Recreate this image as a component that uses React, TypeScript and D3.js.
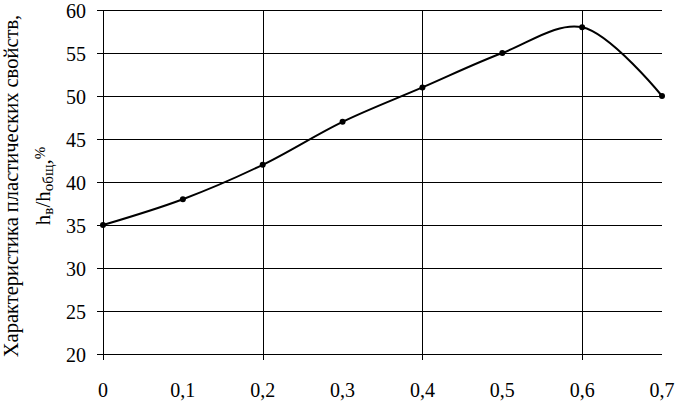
import * as d3 from 'd3'
import { useRef, useEffect } from 'react'

const xValues = [0, 0.1, 0.2, 0.3, 0.4, 0.5, 0.6, 0.7];
const yValues = [35, 38, 42, 47, 51, 55, 58, 50];
const xTicks = [0, 0.1, 0.2, 0.3, 0.4, 0.5, 0.6, 0.7];
const xGrid = [0.2, 0.4, 0.6];
const yTicks = [20, 25, 30, 35, 40, 45, 50, 55, 60];

const fmt = (v: number) => String(v).replace('.', ',');

function App() {
    const svgRef = useRef<SVGSVGElement>(null);

    useEffect(() => {
        const width = 676;
        const height = 402;
        const svg = d3.select(svgRef.current)
            .attr('width', width)
            .attr('height', height);
        svg.selectAll('*').remove();
        const font = '"Liberation Serif", "Times New Roman", serif';

        const scaleX = d3.scaleLinear().domain([0, 0.7]).range([103, 662]);
        const scaleY = d3.scaleLinear().domain([20, 60]).range([354, 10]);

        const g = svg.append('g').attr('shape-rendering', 'crispEdges');

        // horizontal grid
        g.selectAll('.hgrid')
            .data(yTicks)
            .join('line')
            .attr('x1', scaleX(0) - 6)
            .attr('x2', scaleX(0.7))
            .attr('y1', d => Math.round(scaleY(d)) + 0.5)
            .attr('y2', d => Math.round(scaleY(d)) + 0.5)
            .attr('stroke', '#000');

        // vertical grid
        g.selectAll('.vgrid')
            .data([0, ...xGrid])
            .join('line')
            .attr('x1', d => Math.round(scaleX(d)) + 0.5)
            .attr('x2', d => Math.round(scaleX(d)) + 0.5)
            .attr('y1', scaleY(60))
            .attr('y2', scaleY(20) + 6)
            .attr('stroke', '#000');

        // y tick labels
        svg.selectAll('.ylab')
            .data(yTicks)
            .join('text')
            .attr('x', 86)
            .attr('y', d => scaleY(d) + 7.5)
            .attr('text-anchor', 'end')
            .attr('font-family', font)
            .attr('font-size', 20)
            .text(d => d);

        // x tick labels
        svg.selectAll('.xlab')
            .data(xTicks)
            .join('text')
            .attr('x', d => scaleX(d))
            .attr('y', 397)
            .attr('text-anchor', 'middle')
            .attr('font-family', font)
            .attr('font-size', 20)
            .text(d => fmt(d));

        // curve
        const pts: [number, number][] = xValues.map((x, i) => [scaleX(x), scaleY(yValues[i])]);
        svg.append('path')
            .attr('d', d3.line().curve(d3.curveCatmullRom.alpha(0.5))(pts))
            .attr('fill', 'none')
            .attr('stroke', '#000')
            .attr('stroke-width', 2);

        svg.selectAll('.dot')
            .data(pts)
            .join('circle')
            .attr('cx', d => d[0])
            .attr('cy', d => d[1])
            .attr('r', 3)
            .attr('fill', '#000');

        // y axis title
        svg.append('text')
            .attr('transform', 'translate(18,186) rotate(-90)')
            .attr('text-anchor', 'middle')
            .attr('font-family', font)
            .attr('font-size', 20.5)
            .text('Характеристика пластических свойств,');
        const t2 = svg.append('text')
            .attr('transform', 'translate(50,186) rotate(-90)')
            .attr('text-anchor', 'middle')
            .attr('font-family', font)
            .attr('font-size', 21);
        t2.append('tspan').text('h');
        t2.append('tspan').attr('font-size', 15).attr('dy', 3).text('в');
        t2.append('tspan').attr('dy', -3).text('/h');
        t2.append('tspan').attr('font-size', 15).attr('dy', 3).text('общ');
        t2.append('tspan').attr('dy', -3).text(',');
        t2.append('tspan').attr('font-size', 15).attr('dy', -5).text('%');
    }, []);

    return (
        <div style={{ position: 'absolute', left: 0, top: 0, background: '#fff' }}>
            <svg ref={svgRef} style={{ display: 'block' }}></svg>
        </div>
    )
}

export default App;
